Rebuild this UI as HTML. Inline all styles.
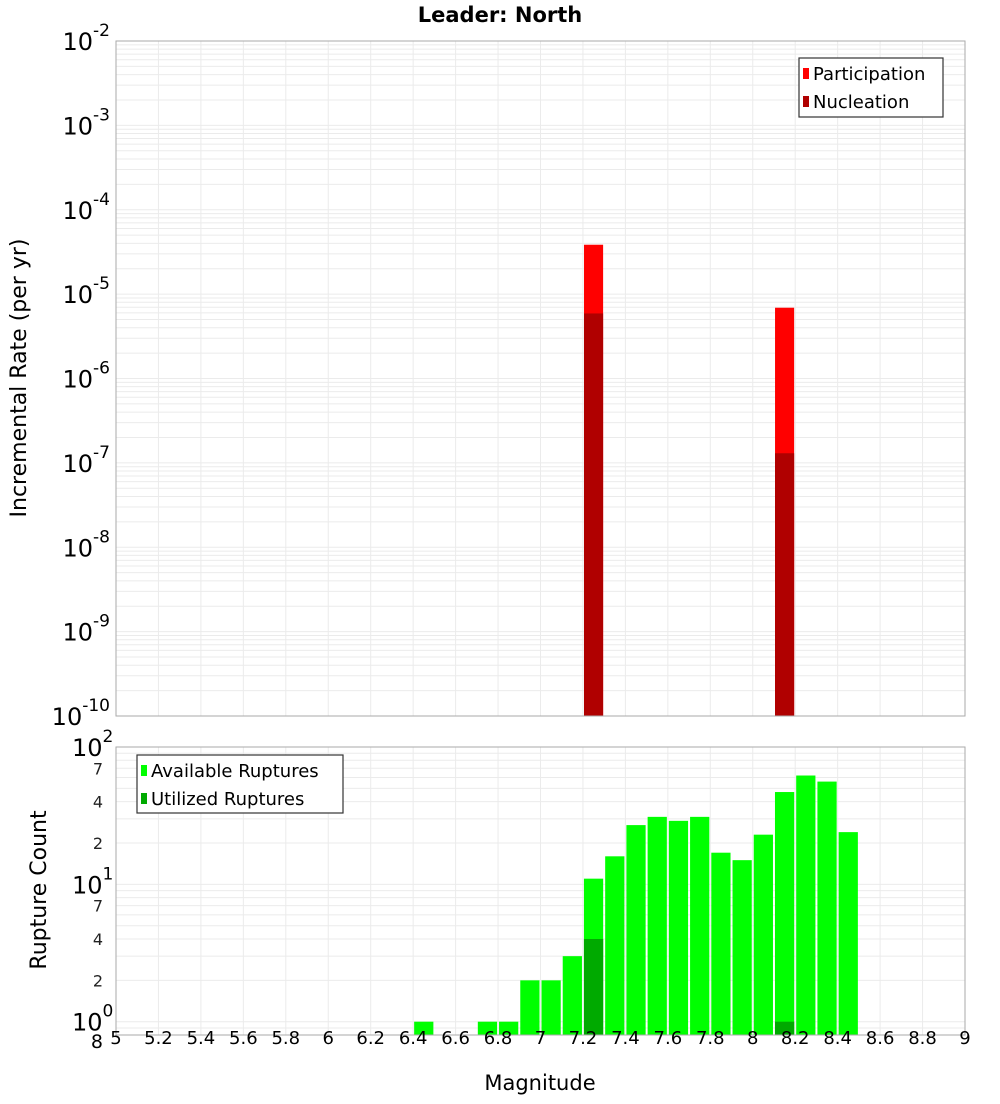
<!DOCTYPE html>
<html><head><meta charset="utf-8"><style>
body{margin:0;background:#fff;font-family:"DejaVu Sans","Liberation Sans",sans-serif}
svg text{font-family:"DejaVu Sans","Liberation Sans",sans-serif}
</style></head><body>
<svg id="c" width="1000" height="1100" xmlns="http://www.w3.org/2000/svg"></svg>
<script>
const xTicks=[5,5.2,5.4,5.6,5.8,6,6.2,6.4,6.6,6.8,7,7.2,7.4,7.6,7.8,8,8.2,8.4,8.6,8.8,9];
const rateMags=[7.25,8.15];
const participation=[3.85e-5,6.9e-6];
const nucleation=[5.9e-6,1.3e-7];
const countMags=[6.45,6.75,6.85,6.95,7.05,7.15,7.25,7.35,7.45,7.55,7.65,7.75,7.85,7.95,8.05,8.15,8.25,8.35,8.45];
const available=[1,1,1,2,2,3,11,16,27,31,29,31,17,15,23,47,62,56,24];
const utilizedMags=[7.25,8.15];
const utilized=[4,1];

const NS="http://www.w3.org/2000/svg";
const svg=document.getElementById('c');
function el(tag,attrs,parent,txt){const e=document.createElementNS(NS,tag);for(const k in attrs)e.setAttribute(k,attrs[k]);if(txt!==undefined)e.textContent=txt;(parent||svg).appendChild(e);return e;}
const X0=116,X1=965;
const xs=v=>X0+(v-5)/4*(X1-X0);
const T0=41,T1=716;
const ty=v=>T0+(-2-Math.log10(v))/8*(T1-T0);
const B0=747,B1=1035,bmin=Math.log10(0.8);
const by=v=>B1-(Math.log10(v)-bmin)/(2-bmin)*(B1-B0);

// title
let t=el('text',{x:500,y:22,'text-anchor':'middle','font-size':21,'font-weight':'bold'},svg,'Leader: North');


// top grid
const gTop=el('g',{});

for(let d=-10;d<-2;d++)for(let m=1;m<10;m++){const y=ty(m*Math.pow(10,d));el('line',{x1:X0,x2:X1,y1:y,y2:y,stroke:'#ebebeb','stroke-width':1},gTop);}
xTicks.forEach(v=>el('line',{x1:xs(v),x2:xs(v),y1:T0,y2:T1,stroke:'#ebebeb'},gTop));
// bottom grid
const gBot=el('g',{});

for(let d=-1;d<2;d++)for(let m=1;m<10;m++){const v=m*Math.pow(10,d);if(v<0.8)continue;const y=by(v);el('line',{x1:X0,x2:X1,y1:y,y2:y,stroke:'#ebebeb'},gBot);}
xTicks.forEach(v=>el('line',{x1:xs(v),x2:xs(v),y1:B0,y2:B1,stroke:'#ebebeb'},gBot));

// top bars
const bw=(xs(5.1)-xs(5))*0.9;
rateMags.forEach((m,i)=>{
 let r=el('rect',{x:xs(m)-bw/2,y:ty(participation[i]),width:bw,height:T1-ty(participation[i]),fill:'#ff0000'});
 
 r=el('rect',{x:xs(m)-bw/2,y:ty(nucleation[i]),width:bw,height:T1-ty(nucleation[i]),fill:'#b00000'});
 
});
// bottom bars
const bw2=(xs(5.1)-xs(5))-2;
countMags.forEach((m,i)=>{
 const r=el('rect',{x:xs(m)-bw2/2,y:by(available[i]),width:bw2,height:B1-by(available[i]),fill:'#00ff00'});
 
});
utilizedMags.forEach((m,i)=>{
 const r=el('rect',{x:xs(m)-bw2/2,y:by(utilized[i]),width:bw2,height:B1-by(utilized[i]),fill:'#00aa00'});
 
});

// frames
el('rect',{x:X0,y:T0,width:X1-X0,height:T1-T0,fill:'none',stroke:'#aaa'});
el('rect',{x:X0,y:B0,width:X1-X0,height:B1-B0,fill:'none',stroke:'#aaa'});

// top y labels
for(let d=-10;d<=-2;d++){
 const y=ty(Math.pow(10,d));
 const g=el('text',{x:110,y:y+9,'text-anchor':'end','font-size':24});
 
 el('tspan',{},g,'10');el('tspan',{dy:-14,'font-size':17},g,String(d));
}
// bottom y labels
[0,1,2].forEach(d=>{
 const y=by(Math.pow(10,d));
 const g=el('text',{x:72,y:y+9,'font-size':24});
 
 el('tspan',{},g,'10');el('tspan',{dy:-14,'font-size':17},g,String(d));
});
[[2,'2'],[4,'4'],[7,'7'],[20,'2'],[40,'4'],[70,'7'],[0.8,'8']].forEach(([v,s])=>{
 const tx=el('text',{x:103,y:by(v)+(v<1?13:6),'text-anchor':'end','font-size':v<1?19:16,fill:v<1?'#000':'#222'},svg,s);
 
});
// x labels
xTicks.forEach(v=>{const tx=el('text',{x:xs(v),y:1032+12,'text-anchor':'middle','font-size':18},svg,String(v));
 });
t=el('text',{x:540,y:1090,'text-anchor':'middle','font-size':21},svg,'Magnitude');

t=el('text',{x:0,y:0,'text-anchor':'middle','font-size':22,transform:'translate(26,378) rotate(-90)'},svg,'Incremental Rate (per yr)');

t=el('text',{x:0,y:0,'text-anchor':'middle','font-size':22,transform:'translate(46,890) rotate(-90)'},svg,'Rupture Count');


// legends
function legend(x,y,w,h,items,name){
 const g=el('g',{});
 el('rect',{x:x,y:y,width:w,height:h,fill:'#fff',stroke:'#333','stroke-width':1.2},g);
 items.forEach((it,i)=>{const yy=y+15+i*28;
  el('rect',{x:x+4,y:yy-5,width:6,height:11,fill:it[1]},g);
  const tx=el('text',{x:x+14,y:yy+7,'font-size':18},g,it[0]);
  });
}
legend(799,58,144,59,[['Participation','#ff0000'],['Nucleation','#b00000']],'rate-legend');
legend(137,755,206,58,[['Available Ruptures','#00ff00'],['Utilized Ruptures','#00aa00']],'count-legend');
</script>
</body></html>
